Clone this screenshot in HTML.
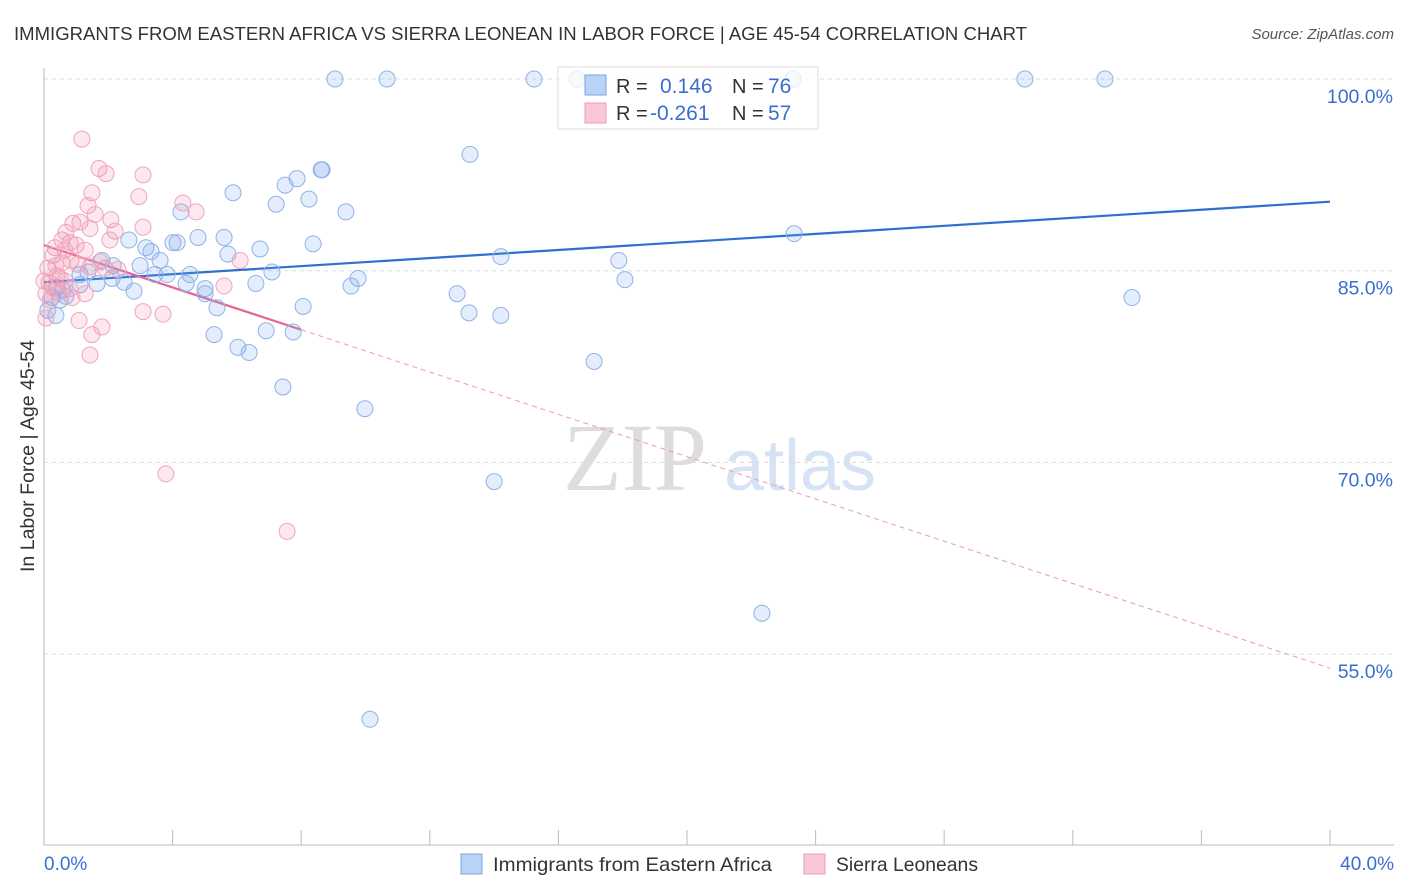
<!DOCTYPE html>
<html><head><meta charset="utf-8"><style>
body{margin:0;background:#fff;font-family:"Liberation Sans",sans-serif;}
svg{display:block}
</style></head><body>
<svg id="chart" width="1406" height="892" xmlns="http://www.w3.org/2000/svg" font-family="Liberation Sans, sans-serif">
<text x="14" y="40" font-size="18.5" fill="#333" textLength="1013" lengthAdjust="spacingAndGlyphs">IMMIGRANTS FROM EASTERN AFRICA VS SIERRA LEONEAN IN LABOR FORCE | AGE 45-54 CORRELATION CHART</text>
<text x="1394" y="39" font-size="15" fill="#555" text-anchor="end" font-style="italic">Source: ZipAtlas.com</text>
<text transform="translate(34,456) rotate(-90)" font-size="19" fill="#333" text-anchor="middle" textLength="232" lengthAdjust="spacingAndGlyphs">In Labor Force | Age 45-54</text>
<g>
<text x="635" y="490" font-size="96" fill="#ddd" font-family="Liberation Serif, serif" text-anchor="middle">ZIP</text>
<text x="800" y="490" font-size="72" fill="#d5e3f5" text-anchor="middle">atlas</text>
</g>
<g id="grid"></g><g id="axes"></g><g id="trends"></g><g id="points"></g>
<g>
<rect x="558" y="67" width="260" height="62" fill="rgba(255,255,255,0.75)" stroke="#ddd"/>
<rect x="585" y="75" width="21" height="20" fill="#b9d3f7" stroke="#7aa3e5"/>
<rect x="585" y="103" width="21" height="20" fill="#f9c7d6" stroke="#ee9bb5"/>
<text x="616" y="93" font-size="20" fill="#333">R =</text>
<text x="660" y="93" font-size="21" fill="#3a6fcf">0.146</text>
<text x="732" y="93" font-size="20" fill="#333">N =</text>
<text x="768" y="93" font-size="21" fill="#3a6fcf">76</text>
<text x="616" y="120" font-size="20" fill="#333">R =</text>
<text x="650" y="120" font-size="21" fill="#3a6fcf">-0.261</text>
<text x="732" y="120" font-size="20" fill="#333">N =</text>
<text x="768" y="120" font-size="21" fill="#3a6fcf">57</text>
</g>
<g>
<rect x="461" y="854" width="21" height="20" fill="#b9d3f7" stroke="#7aa3e5"/>
<text x="493" y="871" font-size="19.5" fill="#333" textLength="279" lengthAdjust="spacingAndGlyphs">Immigrants from Eastern Africa</text>
<rect x="804" y="854" width="21" height="20" fill="#f9c7d6" stroke="#ee9bb5"/>
<text x="836" y="871" font-size="19.5" fill="#333" textLength="142" lengthAdjust="spacingAndGlyphs">Sierra Leoneans</text>
</g>
</svg>
<script>
const yTicks=[100,85,70,55];
const yTickLabels=["100.0%","85.0%","70.0%","55.0%"];
const xTickLabels=["0.0%","40.0%"];
const blueX=[9.05,10.67,15.24,16.58,23.3,30.51,33.0,13.25,8.62,7.87,8.65,7.5,5.88,4.26,7.22,8.24,9.39,23.33,5.6,4.79,2.64,4.01,4.14,8.37,3.17,6.72,3.33,5.72,14.21,17.88,1.8,2.99,2.15,3.61,7.09,1.37,4.54,3.45,3.83,1.12,2.12,6.59,2.49,4.42,9.77,9.55,18.07,2.8,5.01,5.01,12.85,33.84,1.65,0.68,1.12,0.4,0.25,0.37,5.38,8.06,13.22,14.21,5.29,6.91,7.75,6.03,6.38,17.11,7.43,9.98,14.0,22.33,10.14,0.59,0.12,0.5];
const blueY=[100,100,100,100,100,100,100,94.1,92.9,92.2,92.9,91.7,91.1,89.6,90.2,90.6,89.6,87.9,87.6,87.6,87.4,87.2,87.2,87.1,86.8,86.7,86.5,86.3,86.1,85.8,85.8,85.4,85.4,85.8,84.9,84.9,84.7,84.7,84.7,84.7,84.4,84.0,84.1,84.0,84.4,83.8,84.3,83.4,83.6,83.2,83.2,82.9,84.0,83.0,83.9,83.7,82.9,81.5,82.1,82.2,81.7,81.5,80.0,80.3,80.2,79.0,78.6,77.9,75.9,74.2,68.5,58.2,49.9,83.5,81.9,82.7];
const pinkX=[1.18,1.71,1.93,3.08,1.49,2.95,4.32,4.73,1.37,1.59,2.08,2.21,3.08,0.9,1.12,1.43,0.56,0.81,1.0,0.34,0.65,0.28,1.28,0.56,0.84,1.06,1.43,6.1,0.12,1.9,0.4,0.16,0.65,0.28,0.44,0.81,1.28,0,0.06,0.19,5.6,3.08,3.7,1.09,1.8,1.49,1.43,0.06,0.5,2.3,3.79,7.56,0.87,1.74,0.68,0.37,2.05];
const pinkY=[95.3,93.0,92.6,92.5,91.1,90.8,90.3,89.6,90.1,89.4,89.0,88.1,88.4,88.7,88.8,88.3,87.4,87.2,87.0,86.8,86.6,86.2,86.6,85.6,85.8,85.5,85.3,85.8,85.2,85.2,84.6,84.1,84.2,83.7,83.3,83.6,83.2,84.2,83.2,82.7,83.8,81.8,81.6,81.1,80.6,80.0,78.4,81.3,84.4,85.1,69.1,64.6,82.9,85.7,88.0,85.4,87.4];
const blueTrend=[84.1,90.4];
const pinkTrend=[87.0,53.9];
const pinkSolidEnd=8;
const NS="http://www.w3.org/2000/svg";
const X=v=>44+v*(1286/40);
const Y=v=>79+(100-v)*12.78;
function mk(t,a,p){const e=document.createElementNS(NS,t);for(const k in a)e.setAttribute(k,a[k]);p.appendChild(e);return e;}
const grid=document.getElementById('grid'),axes=document.getElementById('axes'),tr=document.getElementById('trends'),pts=document.getElementById('points');
yTicks.forEach((t,i)=>{
 const l=mk('line',{x1:44,x2:1394,y1:Y(t),y2:Y(t),stroke:'#ddd','stroke-dasharray':'4,4'},grid);
 
 
 const tx=mk('text',{x:1393,y:Y(t)+24,'font-size':19.5,fill:'#3a6fcf','text-anchor':'end'},axes);
 tx.textContent=yTickLabels[i];
 
 
});
const ax=mk('path',{d:'M44 68V845H1394',stroke:'#bbb',fill:'none'},axes);


for(let i=0;i<=10;i++){
 const t=mk('line',{x1:X(i*4),x2:X(i*4),y1:830,y2:845,stroke:'#bbb'},axes);
 
 
}
[[0,'start',44],[40,'end',1394]].forEach((d,i)=>{
 const t=mk('text',{x:d[2],y:870,'font-size':19,fill:'#3a6fcf','text-anchor':d[1]},axes);
 t.textContent=xTickLabels[i];
 
 
});
function drawPts(xs,ys,fill,stroke,name){
 xs.forEach((x,i)=>{
  const c=mk('circle',{cx:X(x),cy:Y(ys[i]),r:8,fill:fill,stroke:stroke,'stroke-width':1},pts);
  
  
 });
}
drawPts(blueX,blueY,'rgba(120,165,235,0.2)','#8fb2ea','eastern-africa-point');
drawPts(pinkX,pinkY,'rgba(240,140,170,0.2)','#f0a5bd','sierra-leonean-point');
const bt=mk('line',{x1:X(0),y1:Y(blueTrend[0]),x2:X(40),y2:Y(blueTrend[1]),stroke:'#2f6fd0','stroke-width':2.2},tr);


const pAt=x=>pinkTrend[0]+(pinkTrend[1]-pinkTrend[0])*x/40;
const ps=mk('line',{x1:X(0),y1:Y(pinkTrend[0]),x2:X(pinkSolidEnd),y2:Y(pAt(pinkSolidEnd)),stroke:'#e8648f','stroke-width':2.2},tr);


const pd=mk('line',{x1:X(pinkSolidEnd),y1:Y(pAt(pinkSolidEnd)),x2:X(40),y2:Y(pinkTrend[1]),stroke:'#eb9ab4','stroke-width':1,'stroke-dasharray':'5,4'},tr);


</script>
</body></html>
